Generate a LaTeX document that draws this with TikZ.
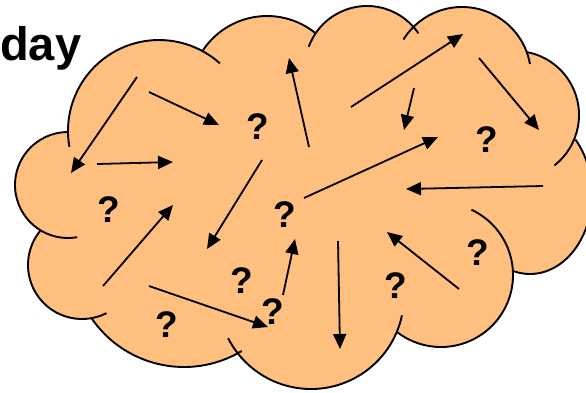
\documentclass[tikz,border=0pt]{standalone}
\usepackage{fontspec}
\setsansfont{Liberation Sans}
\usetikzlibrary{arrows.meta}
\definecolor{cloudfill}{RGB}{254,191,127}

\def\lobes{68/185/53/80/270, 159/131/91/170/312, 267/93/77/213/309,
  367/68/62/200/326, 462/76/69/212/350, 515/115/64/280/412,
  441/275/72/295/488, 311/296/93/12/153, 184/255/112/59/146, 82/265/54/63/220}

\begin{document}
\begin{tikzpicture}[x=1pt, y=-1pt, >={Triangle[length=15pt,width=13pt]},
		lobe/.style={line width=1.9pt},
		arr/.style={->, line width=1.8pt},
		qmark/.style={inner sep=0pt, font=\sffamily\bfseries\fontsize{37}{37}\selectfont}]
		\useasboundingbox (0,0) rectangle (586,392);
		\clip (0,0) rectangle (586,392);
		\foreach \cx/\cy/\r/\a/\b in \lobes
			\fill[cloudfill] (\cx,\cy) circle (\r);
		\fill[cloudfill] (530,194) ellipse [x radius=62, y radius=80];
		\fill[cloudfill] (75,150) -- (60,230) -- (100,310) -- (235,340) -- (395,320) -- (505,265)
			-- (560,160) -- (525,60) -- (410,45) -- (315,50) -- (210,60) -- cycle;
		\foreach \cx/\cy/\r/\a/\b in \lobes
			\draw[lobe] (\cx,\cy) ++(\a:\r) arc[start angle=\a, end angle=\b, radius=\r];
		\draw[lobe] (530,194) ++(317:62 and 80) arc[start angle=317, end angle=465, x radius=62, y radius=80];
		\node[anchor=base west, inner sep=0pt, font=\sffamily\bfseries\fontsize{47}{47}\selectfont] (title) at (0,60) {day};
		\foreach \i/\sx/\sy/\ex/\ey in {1/137/77/71/173, 2/149/92/219/125, 3/97/164/173/162,
			4/309/147/289/58, 5/351/107/463/34, 6/414/88/404/130, 7/479/58/539/130,
			8/304/198/438/137, 9/543/186/406/189, 10/262/160/207/249, 11/103/286/173/205,
			12/149/286/268/327, 13/283/295/295/239, 14/338/241/340/349, 15/459/289/387/232} {
			\coordinate (s\i) at (\sx,\sy);
			\coordinate (e\i) at (\ex,\ey);
			\draw[arr] (s\i) -- (e\i);
		}
		\foreach \i/\px/\py in {1/258/127, 2/487/140, 3/109/210, 4/285/215, 5/242/281,
			6/273/312, 7/167/325, 8/396/286, 9/478/253}
			\node[qmark] (q\i) at (\px,\py) {?};
	\end{tikzpicture}
\end{document}
